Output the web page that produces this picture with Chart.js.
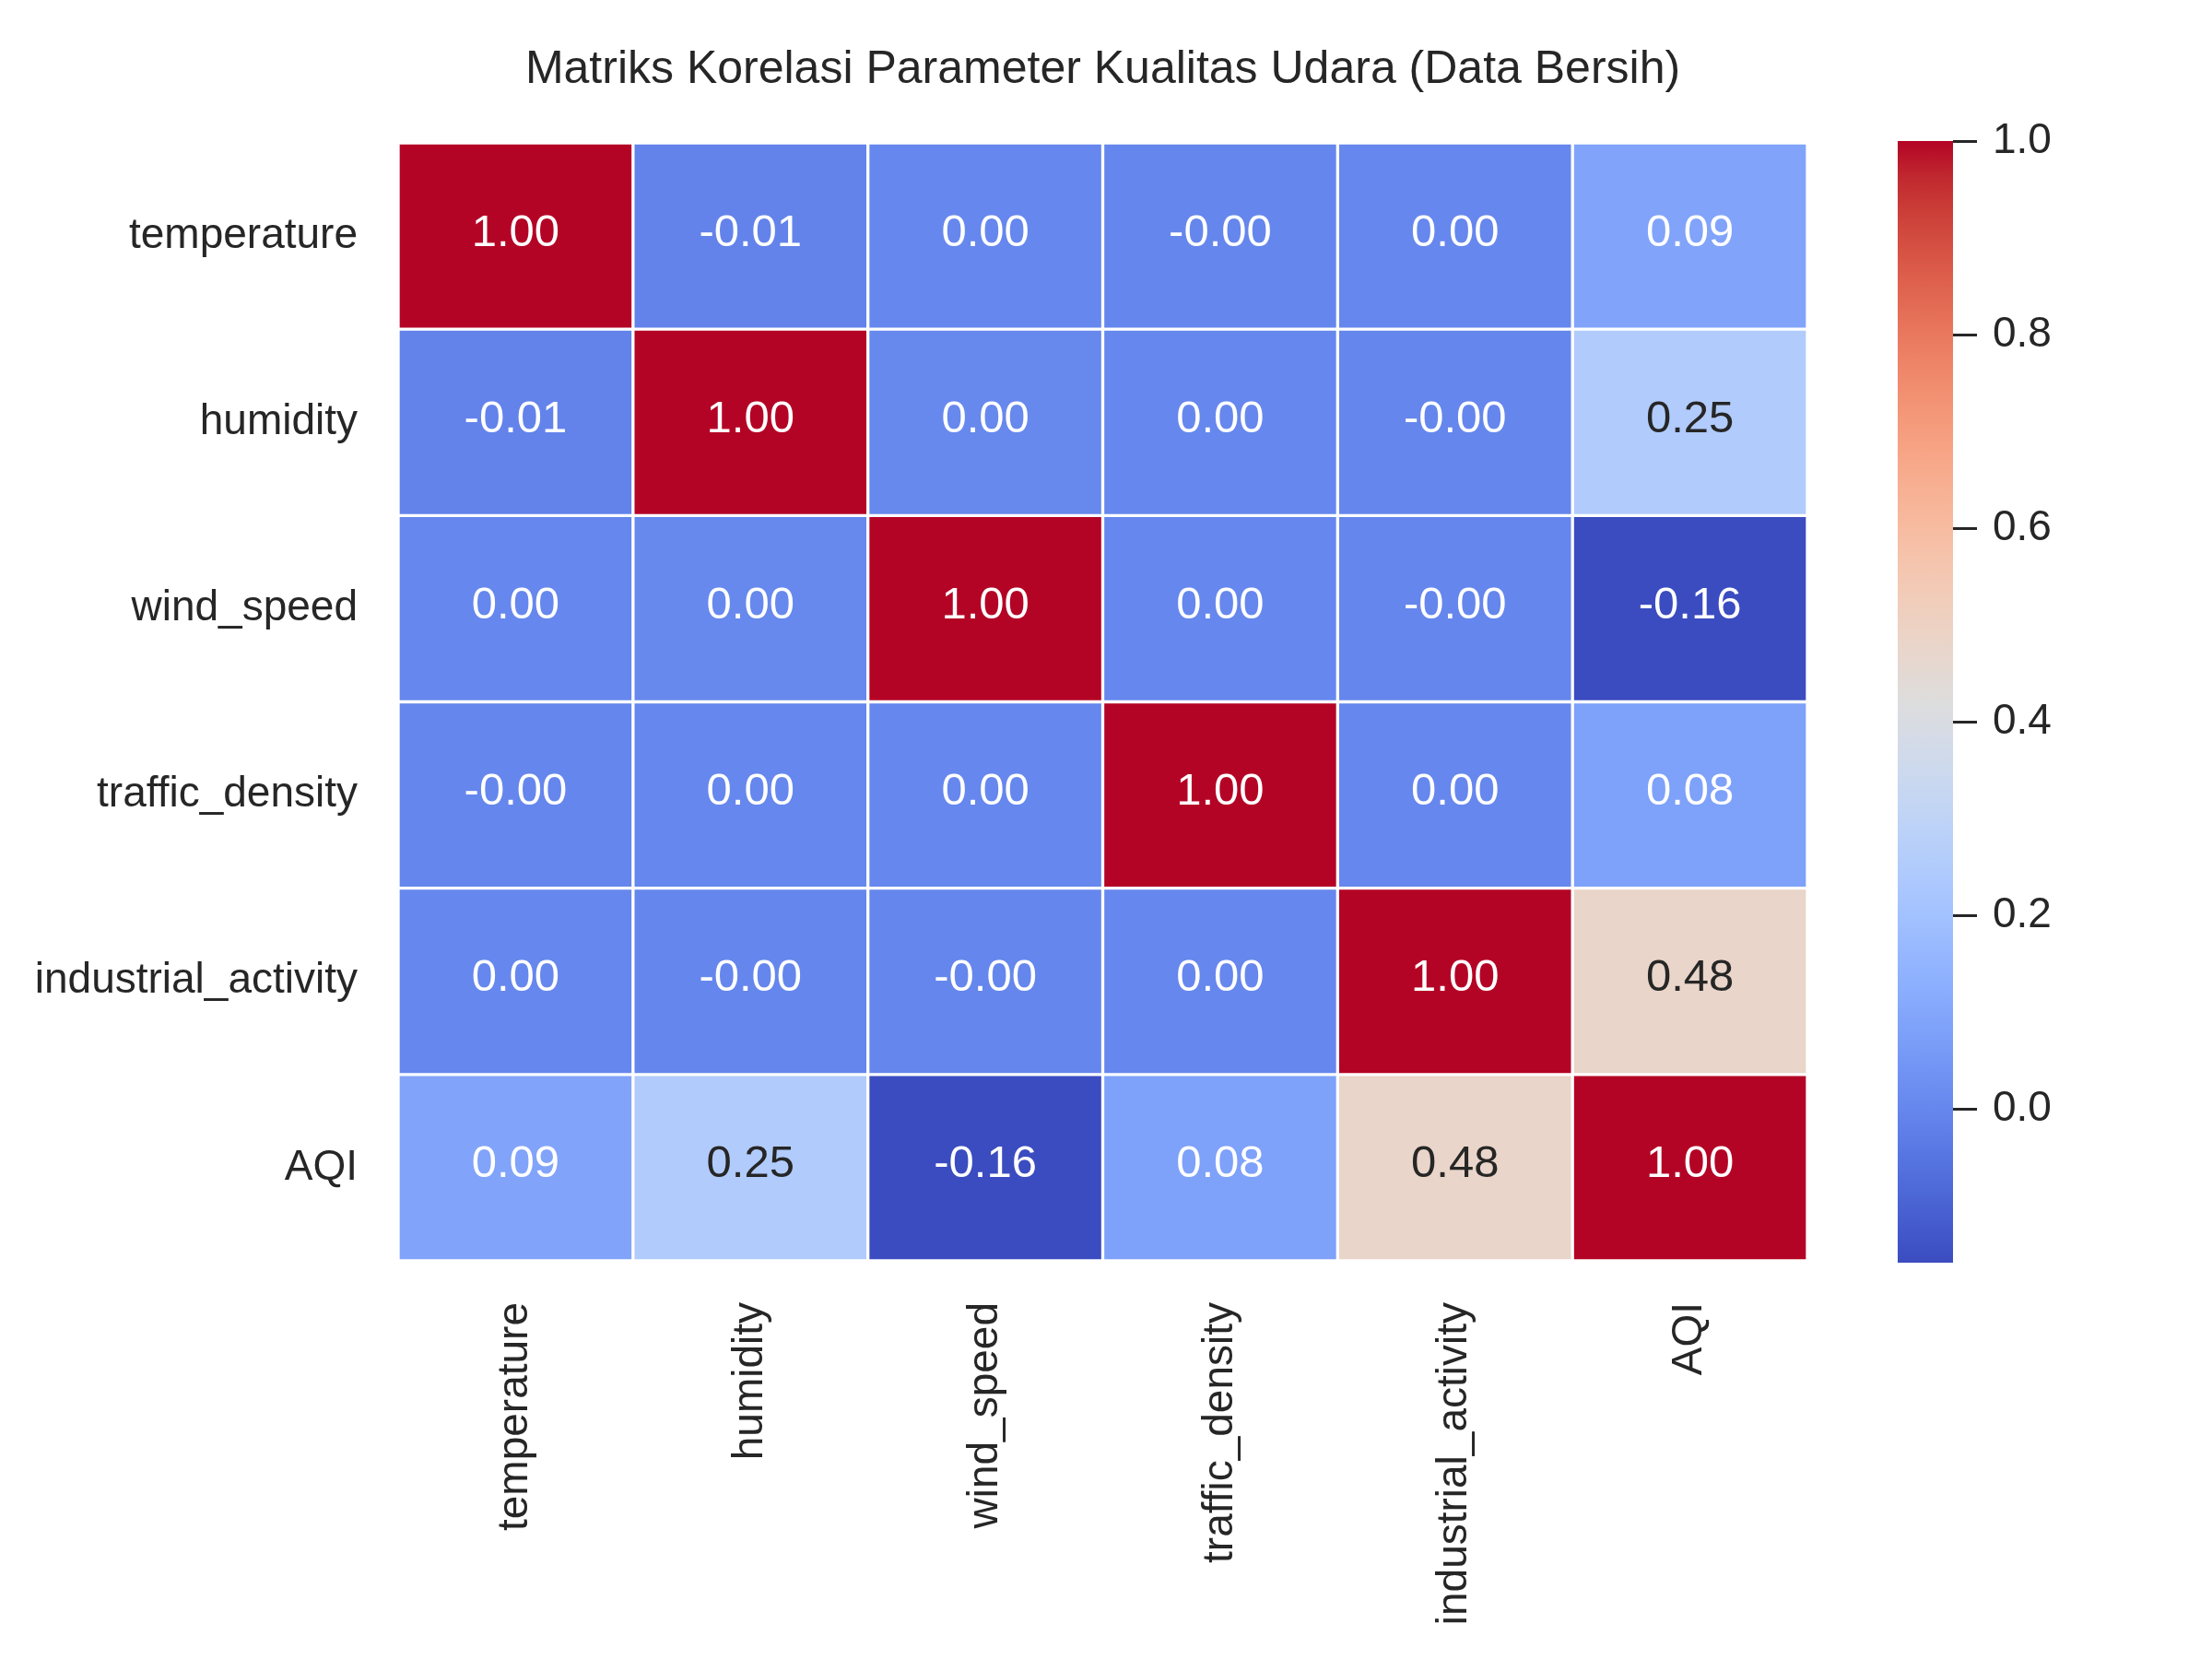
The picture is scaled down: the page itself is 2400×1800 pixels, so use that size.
<!DOCTYPE html>
<html>
<head>
<meta charset="utf-8">
<script src="https://cdn.jsdelivr.net/npm/chart.js@4/dist/chart.umd.min.js"></script>
<style>
  html, body { margin: 0; padding: 0; background: #ffffff; }
  #wrap { position: relative; width: 2400px; height: 1800px; }
  #heat { position: absolute; left: 0; top: 0; }
  #cbar { position: absolute; left: 2059px; top: 0; }
</style>
</head>
<body>
<div id="wrap">
  <canvas id="heat" width="2400" height="1800"></canvas>
  <canvas id="cbar" width="341" height="1800"></canvas>
</div>
<script>
const TITLE = "Matriks Korelasi Parameter Kualitas Udara (Data Bersih)";
const variables = ["temperature", "humidity", "wind_speed", "traffic_density", "industrial_activity", "AQI"];

// correlation rows, same order as variables
const rowTemperature = [1.0, -0.01, 0.002, -0.002, 0.001, 0.09];
const rowHumidity = [-0.01, 1.0, 0.003, 0.001, -0.002, 0.25];
const rowWindSpeed = [0.002, 0.003, 1.0, 0.002, -0.003, -0.159];
const rowTraffic = [-0.002, 0.001, 0.002, 1.0, 0.001, 0.08];
const rowIndustrial = [0.001, -0.002, -0.003, 0.001, 1.0, 0.48];
const rowAQI = [0.09, 0.25, -0.159, 0.08, 0.48, 1.0];
const corr = [rowTemperature, rowHumidity, rowWindSpeed, rowTraffic, rowIndustrial, rowAQI];

const colorbarTicks = [0.0, 0.2, 0.4, 0.6, 0.8, 1.0];

const FONT = "'Liberation Sans', Arial, 'DejaVu Sans', sans-serif";
const DARK = "#262626";

// coolwarm colormap (Moreland), 33 stops
const coolwarm = [
  [59, 76, 192], [68, 90, 204], [77, 104, 215], [87, 117, 225], [98, 130, 234],
  [108, 142, 241], [119, 154, 247], [130, 165, 251], [141, 176, 254], [152, 185, 255],
  [163, 194, 255], [174, 201, 253], [184, 208, 249], [194, 213, 244], [204, 217, 238],
  [213, 219, 230], [221, 221, 221], [229, 216, 209], [236, 211, 197], [241, 204, 185],
  [245, 196, 173], [247, 187, 160], [247, 177, 148], [247, 166, 135], [244, 154, 123],
  [241, 141, 111], [236, 127, 99], [229, 112, 88], [222, 96, 77], [213, 80, 66],
  [203, 62, 56], [192, 40, 47], [180, 4, 38],
];

const vmin = Math.min(...corr.flat());
const vmax = Math.max(...corr.flat());

function cmapRGB(t) {
  t = Math.max(0, Math.min(1, t));
  const pos = t * (coolwarm.length - 1);
  const i = Math.min(Math.floor(pos), coolwarm.length - 2);
  const f = pos - i;
  const a = coolwarm[i];
  const b = coolwarm[i + 1];
  return [0, 1, 2].map((k) => Math.round(a[k] + (b[k] - a[k]) * f));
}

function colorFor(value) {
  const [r, g, b] = cmapRGB((value - vmin) / (vmax - vmin));
  return `rgb(${r},${g},${b})`;
}

function textColorFor(value) {
  const rgb = cmapRGB((value - vmin) / (vmax - vmin)).map((c) => {
    const s = c / 255;
    return s <= 0.03928 ? s / 12.92 : Math.pow((s + 0.055) / 1.055, 2.4);
  });
  const lum = 0.2126 * rgb[0] + 0.7152 * rgb[1] + 0.0722 * rgb[2];
  return lum > 0.408 ? DARK : "#ffffff";
}

const annotatePlugin = {
  id: "annotate",
  afterDatasetsDraw(chart) {
    const ctx = chart.ctx;
    const xs = chart.scales.x;
    const ys = chart.scales.y;
    ctx.save();
    ctx.font = `49px ${FONT}`;
    ctx.textAlign = "center";
    ctx.textBaseline = "middle";
    corr.forEach((row, r) => {
      row.forEach((v, c) => {
        ctx.fillStyle = textColorFor(v);
        ctx.fillText(v.toFixed(2), xs.getPixelForValue(c), ys.getPixelForValue(r + 0.5) - 3);
      });
    });
    ctx.restore();
  },
};

const datasets = corr.map((row, r) => ({
  label: variables[r],
  data: row.map(() => [r, r + 1]),
  backgroundColor: row.map((v) => colorFor(v)),
  borderColor: "#ffffff",
  borderWidth: 2,
  borderSkipped: false,
  barPercentage: 1,
  categoryPercentage: 1,
  grouped: false,
}));

new Chart(document.getElementById("heat"), {
  type: "bar",
  data: { labels: variables, datasets },
  options: {
    responsive: false,
    animation: false,
    layout: { padding: { left: 0, right: 439, top: 0, bottom: 0 } },
    plugins: {
      legend: { display: false },
      tooltip: { enabled: false },
      title: {
        display: true,
        text: TITLE,
        fullSize: false,
        color: DARK,
        font: { family: FONT, size: 50, weight: "normal" },
        padding: { top: 46, bottom: 49 },
      },
    },
    scales: {
      x: {
        type: "category",
        grid: { display: false, drawTicks: false },
        border: { display: false },
        ticks: {
          autoSkip: false,
          minRotation: 90,
          maxRotation: 90,
          padding: 45,
          color: DARK,
          font: { family: FONT, size: 46 },
        },
        afterFit: (axis) => { axis.height = 432; },
      },
      y: {
        type: "linear",
        min: 0,
        max: 6,
        reverse: true,
        grid: { display: false, drawTicks: false },
        border: { display: false },
        afterBuildTicks: (axis) => {
          axis.ticks = variables.map((_, i) => ({ value: i + 0.5 }));
        },
        ticks: {
          padding: 44,
          color: DARK,
          font: { family: FONT, size: 46 },
          callback: (value) => variables[Math.floor(value)],
        },
        afterFit: (axis) => { axis.width = 432; },
      },
    },
  },
  plugins: [annotatePlugin],
});

// colorbar
function colorbarGradient(context) {
  const chart = context.chart;
  const area = chart.chartArea;
  if (!area) return colorFor(vmax);
  const g = chart.ctx.createLinearGradient(0, area.bottom, 0, area.top);
  coolwarm.forEach((rgb, i) => {
    g.addColorStop(i / (coolwarm.length - 1), `rgb(${rgb[0]},${rgb[1]},${rgb[2]})`);
  });
  return g;
}

new Chart(document.getElementById("cbar"), {
  type: "bar",
  data: {
    labels: [""],
    datasets: [{
      data: [[vmin, vmax]],
      backgroundColor: colorbarGradient,
      borderWidth: 0,
      barPercentage: 1,
      categoryPercentage: 1,
    }],
  },
  options: {
    responsive: false,
    animation: false,
    layout: { padding: { left: 0, right: 0, top: 153, bottom: 430 } },
    plugins: { legend: { display: false }, tooltip: { enabled: false } },
    scales: {
      x: { display: false },
      y: {
        type: "linear",
        position: "right",
        min: vmin,
        max: vmax,
        border: { display: false },
        grid: {
          display: true,
          drawOnChartArea: false,
          drawTicks: true,
          tickLength: 26,
          tickWidth: 3,
          tickColor: DARK,
        },
        afterBuildTicks: (axis) => {
          axis.ticks = colorbarTicks.map((v) => ({ value: v }));
        },
        ticks: {
          padding: 17,
          color: DARK,
          font: { family: FONT, size: 46 },
          callback: (value) => value.toFixed(1),
        },
        afterFit: (axis) => { axis.width = 281; },
      },
    },
  },
});
</script>
</body>
</html>
